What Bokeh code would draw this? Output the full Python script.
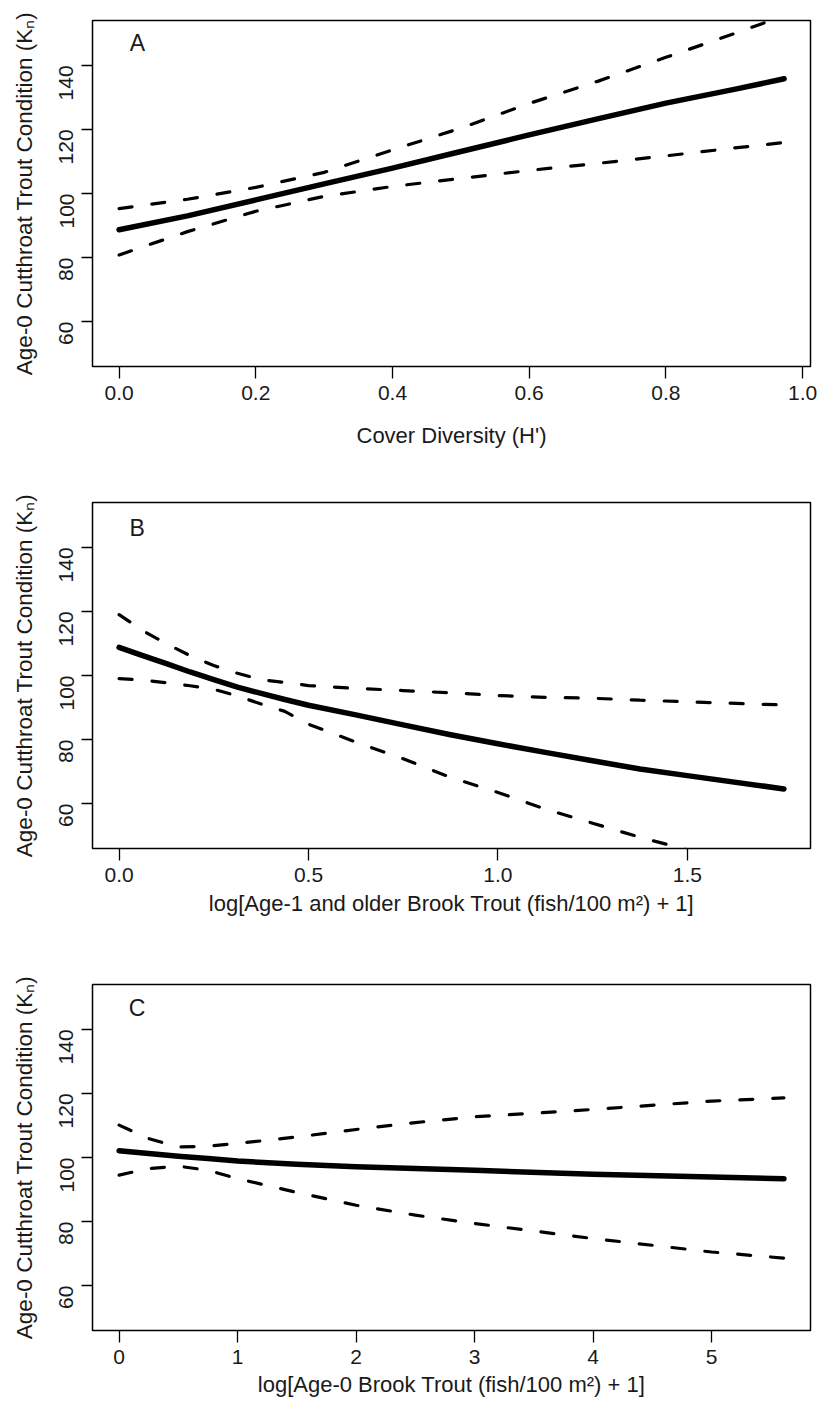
import math
from bokeh.plotting import figure
from bokeh.layouts import column
from bokeh.models import FixedTicker, Range1d, PrintfTickFormatter, Label
from bokeh.embed import file_html
from bokeh.resources import INLINE

NAN = float("nan")

# ---------------- data ----------------
# Panel A: Cover diversity
a_x = [0.0, 0.1, 0.2, 0.3, 0.4, 0.5, 0.6, 0.7, 0.8, 0.9, 0.973]
a_fit = [88.7, 93.0, 98.0, 103.0, 107.9, 113.1, 118.3, 123.3, 128.2, 132.5, 135.8]
a_upper = [95.3, 98.2, 101.9, 106.6, 113.6, 120.4, 128.1, 135.0, 142.5, 149.9, 155.5]
a_lower = [80.8, 88.1, 94.45, 99.1, 102.2, 104.7, 107.2, 109.4, 111.75, 114.2, 115.9]

# Panel B: log age-1+ brook trout
b_x = [0.0, 0.0625, 0.125, 0.1875, 0.25, 0.3125, 0.375, 0.4375, 0.5, 0.625,
       0.75, 0.875, 1.0, 1.125, 1.25, 1.375, 1.5, 1.755]
b_fit = [108.8, 106.2, 103.7, 101.1, 98.7, 96.4, 94.4, 92.5, 90.7, 87.7,
         84.6, 81.5, 78.7, 76.0, 73.4, 70.8, 68.75, 64.6]
b_upper = [119.0, 114.0, 109.9, 106.2, 103.1, 100.7, 98.7, 97.8, 96.85, 96.0,
           95.3, 94.6, 93.75, 93.2, 92.9, 92.3, 91.8, 90.8]
b_lower = [99.0, 98.6, 97.7, 96.8, 95.7, 93.6, 91.1, 88.8, 84.8, 79.2,
           74.0, 68.2, 63.5, 58.3, 53.9, 49.5, 45.6, NAN]

# Panel C: log age-0 brook trout
c_x = [0.0, 0.25, 0.5, 0.75, 1.0, 1.5, 2.0, 2.5, 3.0, 4.0, 5.0, 5.61]
c_fit = [102.1, 101.25, 100.4, 99.7, 98.9, 97.9, 97.1, 96.6, 96.0, 94.8, 93.9, 93.4]
c_upper = [110.1, 105.9, 103.3, 103.5, 104.4, 106.4, 108.75, 110.9, 112.7, 115.0, 117.6, 118.6]
c_lower = [94.5, 96.55, 97.3, 96.0, 93.4, 89.1, 85.1, 82.0, 79.4, 74.7, 70.5, 68.6]

y_ticks = [60, 80, 100, 120, 140]
a_ticks = [0.0, 0.2, 0.4, 0.6, 0.8, 1.0]
b_ticks = [0.0, 0.5, 1.0, 1.5]
c_ticks = [0, 1, 2, 3, 4, 5]

y_label = "Age-0 Cutthroat Trout Condition (K\u2099)"
a_label = "Cover Diversity (H')"
b_label = "log[Age-1 and older Brook Trout (fish/100 m\u00b2) + 1]"
c_label = "log[Age-0 Brook Trout (fish/100 m\u00b2) + 1]"

FONT = "Liberation Sans"
TXT = "#1a1a1a"


def panel(xr, xticks, fmt, xlabel, xs, fit, up, lo, letter, letter_xy,
          height, top, bottom, xl_standoff):
    p = figure(width=820, height=height, x_range=Range1d(*xr),
               y_range=Range1d(46, 154), output_backend="svg",
               toolbar_location=None, min_border_left=92,
               min_border_right=10, min_border_top=top,
               min_border_bottom=bottom)
    p.xgrid.visible = False
    p.ygrid.visible = False
    p.outline_line_color = "black"
    p.outline_line_width = 1.5
    p.background_fill_color = "white"
    p.border_fill_color = "white"

    p.line(xs, up, line_width=3.2, color="black", line_dash="13 20",
           line_cap="round")
    p.line(xs, lo, line_width=3.2, color="black", line_dash="13 20",
           line_cap="round")
    p.line(xs, fit, line_width=5.5, color="black", line_cap="round",
           line_join="round")

    xa = p.xaxis[0]
    xa.ticker = FixedTicker(ticks=xticks)
    xa.formatter = PrintfTickFormatter(format=fmt)
    xa.axis_line_color = None
    xa.major_tick_line_color = "black"
    xa.major_tick_line_width = 1.3
    xa.major_tick_out = 12
    xa.major_tick_in = 0
    xa.minor_tick_out = 0
    xa.minor_tick_in = 0
    xa.major_label_text_font = FONT
    xa.major_label_text_font_size = "21px"
    xa.major_label_text_color = TXT
    xa.major_label_standoff = 7
    xa.axis_label = xlabel
    xa.axis_label_text_font = FONT
    xa.axis_label_text_font_style = "normal"
    xa.axis_label_text_font_size = "22px"
    xa.axis_label_text_color = TXT
    xa.axis_label_standoff = xl_standoff

    ya = p.yaxis[0]
    ya.ticker = FixedTicker(ticks=y_ticks)
    ya.axis_line_color = None
    ya.major_tick_line_color = "black"
    ya.major_tick_line_width = 1.3
    ya.major_tick_out = 11
    ya.major_tick_in = 0
    ya.minor_tick_out = 0
    ya.minor_tick_in = 0
    ya.major_label_orientation = math.pi / 2
    ya.major_label_text_font = FONT
    ya.major_label_text_font_size = "21px"
    ya.major_label_text_color = TXT
    ya.major_label_standoff = 15
    ya.axis_label = y_label
    ya.axis_label_text_font = FONT
    ya.axis_label_text_font_style = "normal"
    ya.axis_label_text_font_size = "22.5px"
    ya.axis_label_text_color = TXT
    ya.axis_label_standoff = 13

    p.add_layout(Label(x=letter_xy[0], y=letter_xy[1], text=letter,
                       text_align="center", text_baseline="middle",
                       text_font=FONT, text_font_size="23px",
                       text_color=TXT))
    return p


pA = panel((-0.0389, 1.0116), a_ticks, "%.1f", a_label, a_x, a_fit, a_upper,
           a_lower, "A", (0.027, 147.0), 490, 20, 124, 20)
pB = panel((-0.0702, 1.8252), b_ticks, "%.1f", b_label, b_x, b_fit, b_upper,
           b_lower, "B", (0.0475, 146.0), 482, 12, 124, 6)
pC = panel((-0.2244, 5.8344), c_ticks, "%d", c_label, c_x, c_fit, c_upper,
           c_lower, "C", (0.152, 146.6), 431, 12, 73, 5)

layout = column(pA, pB, pC, spacing=0)
open("out.html", "w").write(file_html(layout, INLINE))
